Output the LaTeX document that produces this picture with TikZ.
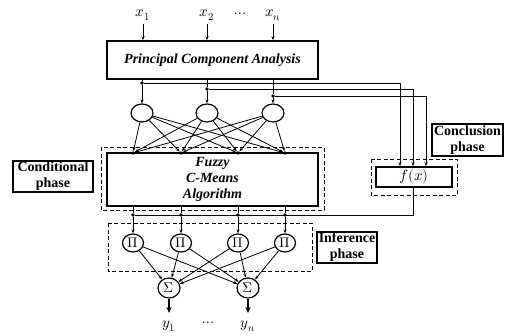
\documentclass[tikz,border=0pt]{standalone}
\usepackage{fontspec}
\usepackage{unicode-math}
\setmainfont{Liberation Serif}
\setmathfont{Latin Modern Math}
\usetikzlibrary{arrows.meta,shapes.geometric,calc}
\begin{document}
\begin{tikzpicture}[x=1pt,y=-1pt,
  wire/.style={line width=0.8pt},
  arr/.style={wire,-{Stealth[length=4pt,width=3pt]}},
  boldarr/.style={line width=1.6pt,-{Stealth[length=6pt,width=5pt]}},
  mainbox/.style={draw,line width=1.6pt,inner sep=0pt,font=\fontsize{14}{16}\selectfont\bfseries\itshape,align=center},
  tagbox/.style={draw,line width=1.6pt,inner sep=0pt,font=\fontsize{14}{16}\selectfont\bfseries,align=center},
  phase/.style={draw,dashed,line width=0.9pt,dash pattern=on 4pt off 2.5pt},
  neuron/.style={draw,ellipse,line width=1.2pt,inner sep=0pt,minimum width=22pt,minimum height=18pt,font=\fontsize{14}{14}\selectfont},
  tap/.style={circle,fill,inner sep=0pt,minimum size=3.6pt},
  lbl/.style={font=\fontsize{15}{15}\selectfont}
]
\useasboundingbox (0,0) rectangle (517,335);

% inputs
\node[lbl] (x1) at (143,15) {$x_1$};
\node[lbl] (x2) at (207,15) {$x_2$};
\node[lbl] (xd) at (240,15) {$\cdots$};
\node[lbl] (xn) at (273,15) {$x_n$};

% principal component analysis
\node[mainbox,minimum width=211pt,minimum height=38pt] (pca) at (212.5,60) {Principal Component Analysis};
\foreach \i in {x1,x2,xn} \draw[arr] (\i.south) -- (\i.south |- pca.north);

% hidden neurons
\node[neuron] (h1) at (142,113) {};
\node[neuron] (h2) at (207,113) {};
\node[neuron] (h3) at (273,113) {};

% taps below PCA feeding the conclusion
\node[tap] (t1) at (142,83) {};
\node[tap] (t2) at (207,89) {};
\node[tap] (t3) at (273,96) {};

% conclusion phase
\node[draw,line width=1.6pt,inner sep=0pt,minimum width=76pt,minimum height=20pt,font=\fontsize{15}{15}\selectfont] (fx) at (414,177) {$f(x)$};
\draw[phase] (371,159) rectangle (457,195);
\node[tagbox,minimum width=71pt,minimum height=32pt] (concl) at (467.5,140) {Conclusion\\phase};

\coordinate (c1) at (400,83);
\coordinate (c2) at (413,89);
\coordinate (c3) at (426,96);
\draw[wire] (h1 |- pca.south) -- (t1);
\draw[arr] (t1) -- (h1.north);
\draw[wire] (h2 |- pca.south) -- (t2);
\draw[arr] (t2) -- (h2.north);
\draw[wire] (h3 |- pca.south) -- (t3);
\draw[arr] (t3) -- (h3.north);
\draw[arr] (t1) -- (c1) -- (c1 |- fx.north);
\draw[arr] (t2) -- (c2) -- (c2 |- fx.north);
\draw[arr] (t3) -- (c3) -- (c3 |- fx.north);

% fuzzy c-means
\node[mainbox,minimum width=211pt,minimum height=53pt] (fcm) at (212.5,179.5) {Fuzzy\\C-Means\\Algorithm};
\draw[phase] (101,147) rectangle (324,210);
\node[tagbox,minimum width=80pt,minimum height=31pt] (cond) at (53,176.5) {Conditional\\phase};

\foreach \k/\x in {1/133,2/181,3/238,4/285} {
  \node[tap] (u\k) at (\x,153) {};
}
\foreach \h in {h1,h2,h3} {
  \foreach \k in {1,...,4} \draw[arr] (\h) -- (u\k);
}

% inference phase
\foreach \k/\x in {1/133,2/181,3/238,4/285} {
  \node[neuron,minimum width=21pt] (p\k) at (\x,243) {$\Pi$};
  \node[tap] (d\k) at (\x,215) {};
  \draw[wire] (d\k |- fcm.south) -- (d\k);
  \draw[arr] (d\k) -- (p\k.north);
}
\coordinate (fxo) at (413,215);
\draw[wire] (fx.south -| fxo) -- (fxo) -- (d1);
\draw[phase] (108,223) rectangle (312,271);
\node[tagbox,minimum width=60pt,minimum height=31pt] (infer) at (347,247.5) {Inference\\phase};

% output neurons
\node[neuron,minimum height=20pt] (s1) at (169,288) {$\Sigma$};
\node[neuron,minimum height=20pt] (s2) at (248,288) {$\Sigma$};
\foreach \k in {1,...,4} {
  \draw[arr] (p\k) -- (s1);
  \draw[arr] (p\k) -- (s2);
}
\coordinate (o1) at (169,313);
\coordinate (o2) at (248,313);
\draw[boldarr] (s1.south) -- (o1);
\draw[boldarr] (s2.south) -- (o2);
\node[lbl] (y1) at (169,326) {$y_1$};
\node[lbl] (yd) at (208,324) {$\cdots$};
\node[lbl] (yn) at (248,326) {$y_n$};
\end{tikzpicture}
\end{document}
